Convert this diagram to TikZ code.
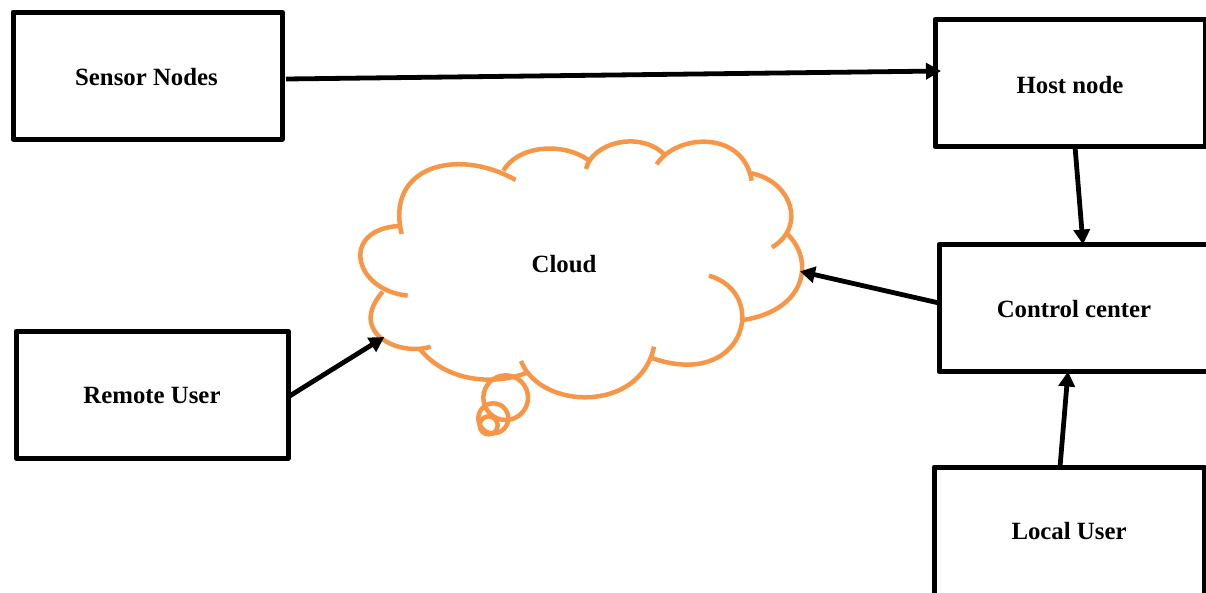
\documentclass[tikz,border=0pt]{standalone}
\usepackage{fontspec}
\setmainfont{Liberation Serif}
\usetikzlibrary{arrows.meta}
\definecolor{cloudorange}{HTML}{F79646}
\tikzset{
  boxnode/.style={draw=black,line width=5pt,line join=round,fill=white,outer sep=0pt,inner sep=0pt,
    minimum height=127pt,font=\fontsize{24.8}{28}\selectfont\bfseries},
  lift/.style={text height=#1,text depth=0pt},
  labelnode/.style={font=\fontsize{24.8}{28}\selectfont\bfseries,inner sep=0pt},
  conn/.style={line width=4.8pt,-{Triangle[length=15pt,width=16pt]}},
  lobe/.style={draw=cloudorange,line width=4.5pt},
}
\begin{document}
\begin{tikzpicture}[x=1pt,y=-1pt]
\useasboundingbox (0,0) rectangle (1206,592);
\clip (0,0) rectangle (1206,592);
\node[boxnode,lift=20pt,minimum width=269pt] (sensor) at (147.5,75.5) {\hspace{-2pt}Sensor Nodes};
\node[boxnode,lift=20pt,minimum width=270pt] (host) at (1070,83) {Host node};
\node[boxnode,lift=18pt,minimum width=270pt] (control) at (1074,308) {Control center};
\node[boxnode,lift=18pt,minimum width=272pt] (remote) at (152,394.5) {Remote User};
\node[boxnode,lift=15pt,minimum width=270pt,minimum height=130pt] (local) at (1069,532) {Local User};
\begin{scope}[shift={(340pt,-130pt)},x=0.33333pt,y=-0.33333pt]
  \draw[lobe] (185,312) .. controls (135,110) and (350,50) .. (527,150);
  \draw[lobe] (490,122) .. controls (535,45) and (670,35) .. (748,92);
  \draw[lobe] (738,117) .. controls (755,40) and (895,0) .. (972,72);
  \draw[lobe] (950,103) .. controls (1010,10) and (1210,0) .. (1235,152);
  \draw[lobe] (1235,130) .. controls (1355,155) and (1400,290) .. (1296,352);
  \draw[lobe] (1340,310) .. controls (1425,390) and (1400,540) .. (1210,570);
  \draw[lobe] (1107,437) .. controls (1290,490) and (1215,780) .. (938,685);
  \draw[lobe] (942,650) .. controls (900,850) and (600,840) .. (543,693);
  \draw[lobe] (560,728) .. controls (470,765) and (320,760) .. (238,655);
  \draw[lobe] (272,650) .. controls (180,680) and (20,610) .. (128,485);
  \draw[lobe] (203,497) .. controls (40,480) and (0,300) .. (175,288);
  \draw[lobe] (497,803) circle (67);
  \draw[lobe] (460,865) circle (45);
  \draw[lobe] (446,886) circle (27);
  \coordinate (cloudeast) at (1380,424);
  \coordinate (cloudwest) at (133,621);
\end{scope}
\node[labelnode] (cloud) at (564,264) {Cloud};
\draw[conn] ([xshift=4pt,yshift=-3.5pt]sensor.east) -- ([xshift=6pt,yshift=12pt]host.west);
\draw[conn] ([xshift=5pt]host.south) -- ([xshift=9pt]control.north);
\draw[conn] ([yshift=5pt]control.west) -- (cloudeast);
\draw[conn] ([yshift=-2.5pt]remote.east) -- (cloudwest);
\draw[conn] ([xshift=-9pt]local.north) -- ([xshift=-6pt]control.south);
\end{tikzpicture}
\end{document}
